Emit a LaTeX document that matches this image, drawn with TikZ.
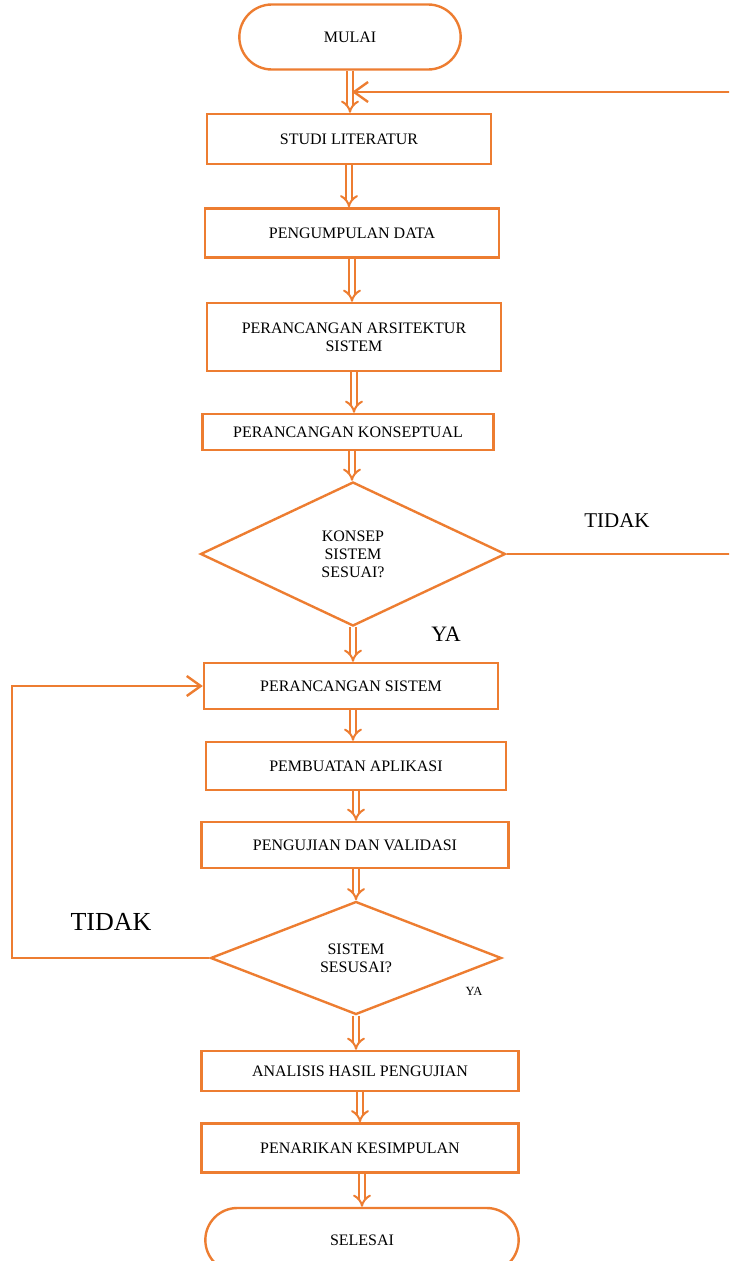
\documentclass[tikz,border=0pt]{standalone}
\usepackage{fontspec}
\setmainfont{Liberation Serif}
\usepackage{tikz}
\usetikzlibrary{shapes.misc,shapes.geometric,arrows.meta}
\definecolor{flowor}{HTML}{ED7D31}

\begin{document}
\begin{tikzpicture}[
    x=1pt, y=-1pt,
    box/.style={rectangle, draw=flowor, line width=2.4pt, align=center, inner sep=2pt, font=\fontsize{16}{18}\selectfont},
    term/.style={rounded rectangle, draw=flowor, line width=2.4pt, align=center, font=\fontsize{16}{18}\selectfont},
    cond/.style={diamond, draw=flowor, line width=2.4pt, align=center, inner sep=0pt, font=\fontsize{16}{18}\selectfont},
    arr/.style={-{Implies[length=6pt]}, draw=flowor, double=white, double distance=4pt, line width=2pt},
    back/.style={-{Straight Barb[length=14pt,width=20pt,line width=2.4pt]}, draw=flowor, line width=2.4pt},
    lbl/.style={inner sep=0pt}
]
\clip (0,0) rectangle (729,1261);

\node[term, minimum width=228, minimum height=65] (start) at (350,37) {MULAI};
\node[box, minimum width=284, minimum height=50] (studi) at (349,139) {STUDI LITERATUR};
\node[box, minimum width=294, minimum height=49] (kumpul) at (352,233) {PENGUMPULAN DATA};
\node[box, minimum width=294, minimum height=68] (arsi) at (354,337) {PERANCANGAN ARSITEKTUR\\SISTEM};
\node[box, minimum width=291, minimum height=36] (konsep) at (348,432) {PERANCANGAN KONSEPTUAL};
\node[cond, minimum width=305, minimum height=144] (cek1) at (353,554) {KONSEP\\SISTEM\\SESUAI?};

\node[box, minimum width=294, minimum height=46] (rancang) at (351,686) {PERANCANGAN SISTEM};
\node[box, minimum width=300, minimum height=48] (buat) at (356,766) {PEMBUATAN APLIKASI};
\node[box, minimum width=307, minimum height=46] (uji) at (355,845) {PENGUJIAN DAN VALIDASI};
\node[cond, minimum width=291, minimum height=113] (cek2) at (356,958) {SISTEM\\SESUSAI?};

\node[box, minimum width=317, minimum height=40] (analisis) at (360,1071) {ANALISIS HASIL PENGUJIAN};
\node[box, minimum width=317, minimum height=49] (simpul) at (360,1148) {PENARIKAN KESIMPULAN};
\node[term, minimum width=320, minimum height=64] (end) at (362,1240) {SELESAI};

% labels
\node[lbl, font=\fontsize{21}{24}\selectfont] (tidak1) at (617,521) {TIDAK};
\node[lbl, font=\fontsize{22}{25}\selectfont] (ya1) at (446,634) {YA};
\node[lbl, font=\fontsize{26}{30}\selectfont] (tidak2) at (111,922) {TIDAK};
\node[lbl, font=\fontsize{12.5}{15}\selectfont] (ya2) at (474,991) {YA};

% main flow
\draw[arr] (start.south) -- (start.south |- studi.north);
\draw[arr] (studi.south) -- (studi.south |- kumpul.north);
\draw[arr] (kumpul.south) -- (kumpul.south |- arsi.north);
\draw[arr] (arsi.south) -- (arsi.south |- konsep.north);
\draw[arr] (konsep.south) ++(4,0) coordinate (k1) -- (k1 |- cek1.north);
\draw[arr] (cek1.south) -- (cek1.south |- rancang.north);
\draw[arr] (rancang.south) ++(2,0) coordinate (r1) -- (r1 |- buat.north);
\draw[arr] (buat.south) -- (buat.south |- uji.north);
\draw[arr] (uji.south) ++(1,0) coordinate (u1) -- (u1 |- cek2.north);
\draw[arr] (cek2.south) -- (cek2.south |- analisis.north);
\draw[arr] (analisis.south) -- (analisis.south |- simpul.north);
\draw[arr] (simpul.south) ++(2,0) coordinate (s1) -- (s1 |- end.north);

% loops back
\coordinate (rt) at (732,92);
\coordinate (hit) at (352,92);
\draw[back] (cek1.east) -| (rt) -- (hit);
\coordinate (lt) at (12,686);
\draw[back] (cek2.west) -| (lt) -- (rancang.west);
\end{tikzpicture}
\end{document}
